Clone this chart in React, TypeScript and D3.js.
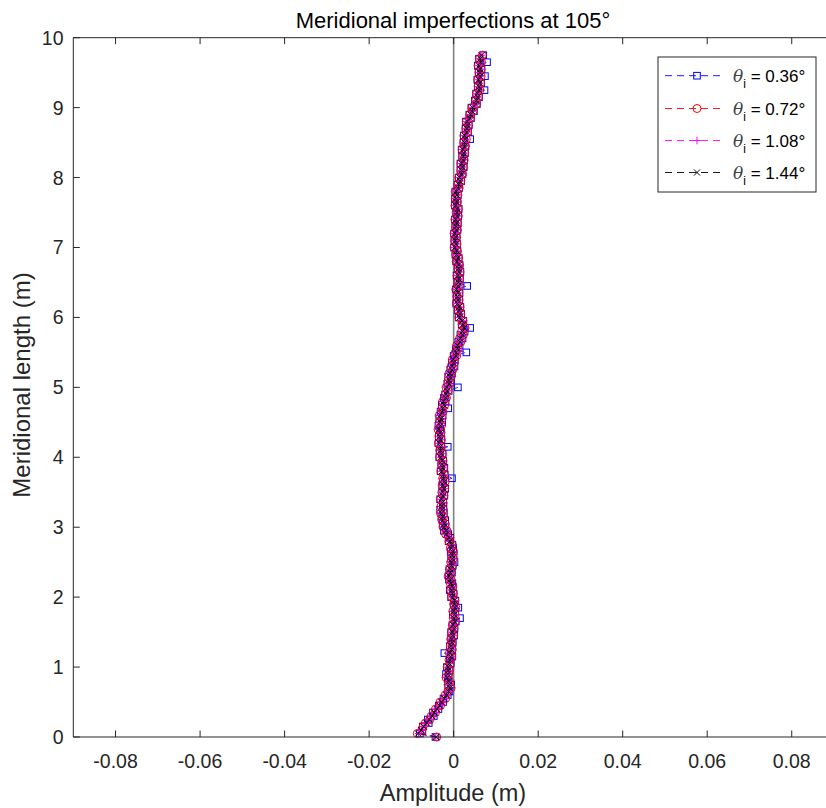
import React from 'react';
import * as d3 from 'd3';

// meridional stations (m)
const stations = [
  0.00, 0.05, 0.10, 0.15, 0.20, 0.25, 0.30, 0.35, 0.40, 0.45, 0.50, 0.55, 0.60, 0.65, 0.70, 0.75, 0.80, 0.85, 0.90, 0.95,
  1.00, 1.05, 1.10, 1.15, 1.20, 1.25, 1.30, 1.35, 1.40, 1.45, 1.50, 1.55, 1.60, 1.65, 1.70, 1.75, 1.80, 1.85, 1.90, 1.95,
  2.00, 2.05, 2.10, 2.15, 2.20, 2.25, 2.30, 2.35, 2.40, 2.45, 2.50, 2.55, 2.60, 2.65, 2.70, 2.75, 2.80, 2.85, 2.90, 2.95,
  3.00, 3.05, 3.10, 3.15, 3.20, 3.25, 3.30, 3.35, 3.40, 3.45, 3.50, 3.55, 3.60, 3.65, 3.70, 3.75, 3.80, 3.85, 3.90, 3.95,
  4.00, 4.05, 4.10, 4.15, 4.20, 4.25, 4.30, 4.35, 4.40, 4.45, 4.50, 4.55, 4.60, 4.65, 4.70, 4.75, 4.80, 4.85, 4.90, 4.95,
  5.00, 5.05, 5.10, 5.15, 5.20, 5.25, 5.30, 5.35, 5.40, 5.45, 5.50, 5.55, 5.60, 5.65, 5.70, 5.75, 5.80, 5.85, 5.90, 5.95,
  6.00, 6.05, 6.10, 6.15, 6.20, 6.25, 6.30, 6.35, 6.40, 6.45, 6.50, 6.55, 6.60, 6.65, 6.70, 6.75, 6.80, 6.85, 6.90, 6.95,
  7.00, 7.05, 7.10, 7.15, 7.20, 7.25, 7.30, 7.35, 7.40, 7.45, 7.50, 7.55, 7.60, 7.65, 7.70, 7.75, 7.80, 7.85, 7.90, 7.95,
  8.00, 8.05, 8.10, 8.15, 8.20, 8.25, 8.30, 8.35, 8.40, 8.45, 8.50, 8.55, 8.60, 8.65, 8.70, 8.75, 8.80, 8.85, 8.90, 8.95,
  9.00, 9.05, 9.10, 9.15, 9.20, 9.25, 9.30, 9.35, 9.40, 9.45, 9.50, 9.55, 9.60, 9.65, 9.70, 9.75,
];

// amplitudes in mm, one array per theta_i
const amp036 = [
  -4.3, -8.0, -7.4, -7.3, -5.9, -6.1, -4.7, -4.9, -3.6, -3.5, -2.5, -2.4, -1.4, -1.0, -1.3, -0.6, -1.4, -1.2, -1.8, -1.0,
  -1.6, -0.7, -0.9, -0.3, -2.2, -0.4, -0.9, -0.2, -0.6, 0.1, -0.6, 0.2, -0.3, 0.5, 1.5, -0.2, 0.4, 1.1, 0.0, 0.4,
  -0.6, 0.0, -0.9, -0.2, -0.3, -1.1, -1.2, -0.4, -1.0, -0.2, 0.2, -0.6, 0.0, -0.7, -0.1, -0.3, -1.2, -0.8, -1.3, -2.3,
  -1.9, -2.6, -2.0, -2.9, -2.3, -3.2, -2.4, -2.5, -3.2, -2.2, -2.7, -2.0, -2.7, -2.5, -0.4, -2.1, -3.1, -2.2, -2.9, -2.5,
  -3.4, -2.6, -3.3, -1.4, -3.6, -2.9, -3.5, -3.0, -3.2, -3.6, -2.7, -3.4, -2.6, -3.1, -1.3, -2.8, -1.9, -2.3, -2.0, -1.2,
  1.0, -1.5, -0.6, -1.3, -0.4, -0.8, 0.2, -0.4, 0.3, 0.0, 3.0, 0.5, 1.4, 1.1, 2.1, 1.6, 2.6, 3.9, 1.9, 2.3,
  1.2, 1.8, 1.0, 1.6, 0.6, 1.3, 0.7, 1.4, 0.5, 3.2, 0.9, 1.5, 0.7, 1.6, 1.0, 1.4, 0.6, 1.2, 0.4, 0.9,
  0.1, 0.8, 0.2, 0.7, 0.1, 0.9, 0.4, 1.0, 0.3, 1.1, 0.6, 1.2, 0.3, 0.9, 0.3, 1.0, 0.4, 1.3, 0.9, 1.8,
  1.2, 2.1, 1.6, 2.4, 1.6, 2.5, 2.0, 2.7, 1.9, 2.8, 2.3, 3.9, 2.4, 3.4, 2.8, 3.6, 2.9, 4.1, 3.7, 4.8,
  4.2, 5.5, 5.0, 6.0, 5.3, 7.3, 5.7, 6.5, 5.6, 7.4, 5.9, 6.6, 5.7, 7.9, 6.0, 7.0,
];
const amp072 = [
  -4.0, -8.6, -7.5, -7.2, -6.7, -5.6, -5.3, -4.3, -4.3, -3.1, -3.2, -1.9, -2.0, -1.4, -0.6, -1.3, -1.0, -1.8, -1.2, -1.0,
  -1.5, -0.8, -1.1, -0.5, -1.0, -0.3, -0.8, -0.4, -0.7, 0.0, -0.5, 0.1, -0.3, 0.4, -0.1, 0.3, -0.2, 0.5, 0.0, 0.3,
  -0.5, -0.1, -0.7, -0.2, -0.8, -0.6, -1.3, -0.6, -1.0, -0.3, -0.7, -0.1, -0.5, 0.0, -0.8, -0.3, -1.1, -0.9, -1.9, -1.6,
  -2.5, -2.0, -2.8, -2.4, -3.1, -2.5, -3.0, -2.5, -3.1, -2.3, -2.8, -2.1, -2.7, -2.0, -2.6, -2.2, -3.0, -2.4, -2.9, -2.5,
  -3.3, -2.7, -3.3, -2.9, -3.6, -2.9, -3.5, -3.0, -3.7, -2.9, -3.4, -2.8, -3.4, -2.5, -2.8, -2.1, -2.6, -1.7, -2.0, -1.3,
  -1.8, -0.9, -1.3, -0.6, -1.1, -0.2, -0.6, 0.2, -0.3, 0.7, 0.4, 1.1, 0.7, 1.7, 1.4, 2.3, 1.9, 2.7, 2.0, 2.2,
  1.2, 1.7, 1.1, 1.5, 0.7, 1.3, 0.7, 1.2, 0.5, 1.3, 0.9, 1.4, 0.8, 1.5, 1.0, 1.4, 0.6, 1.2, 0.5, 0.9,
  0.1, 0.8, 0.2, 0.7, 0.1, 0.9, 0.4, 0.9, 0.3, 1.1, 0.6, 1.1, 0.3, 0.9, 0.4, 1.0, 0.4, 1.3, 1.0, 1.7,
  1.2, 2.1, 1.7, 2.3, 1.7, 2.5, 2.1, 2.6, 2.0, 2.8, 2.4, 3.0, 2.4, 3.3, 2.9, 3.5, 3.0, 4.0, 3.8, 4.6,
  4.3, 5.4, 5.2, 5.9, 5.4, 6.2, 5.8, 6.4, 5.7, 6.5, 6.0, 6.5, 5.8, 6.6, 6.1, 6.8,
];
const amp108 = [
  -4.2, -8.3, -7.6, -7.0, -6.5, -5.7, -5.2, -4.5, -4.1, -3.2, -3.0, -2.1, -1.8, -1.1, -0.8, -1.1, -1.1, -1.7, -1.3, -1.1,
  -1.4, -0.9, -1.0, -0.6, -1.0, -0.4, -0.7, -0.3, -0.6, -0.1, -0.4, 0.2, -0.2, 0.4, 0.0, 0.3, -0.1, 0.4, 0.1, 0.3,
  -0.4, -0.2, -0.6, -0.3, -0.7, -0.7, -1.2, -0.7, -0.9, -0.4, -0.6, -0.2, -0.4, -0.1, -0.7, -0.4, -1.0, -1.0, -1.8, -1.7,
  -2.4, -2.1, -2.7, -2.5, -3.0, -2.6, -2.9, -2.6, -3.0, -2.4, -2.7, -2.2, -2.6, -2.1, -2.5, -2.3, -2.9, -2.5, -2.8, -2.6,
  -3.2, -2.8, -3.2, -3.0, -3.5, -3.0, -3.4, -3.1, -3.6, -3.0, -3.3, -2.9, -3.3, -2.6, -2.7, -2.2, -2.5, -1.8, -1.9, -1.4,
  -1.7, -1.0, -1.2, -0.7, -1.0, -0.3, -0.5, 0.1, -0.2, 0.6, 0.5, 1.0, 0.8, 1.6, 1.5, 2.2, 2.0, 2.6, 2.1, 2.1,
  1.3, 1.6, 1.2, 1.4, 0.8, 1.2, 0.8, 1.1, 0.6, 1.2, 1.0, 1.3, 0.9, 1.4, 1.1, 1.3, 0.7, 1.1, 0.6, 0.8,
  0.2, 0.7, 0.3, 0.6, 0.2, 0.8, 0.5, 0.8, 0.4, 1.0, 0.7, 1.0, 0.4, 0.8, 0.5, 0.9, 0.5, 1.2, 1.1, 1.6,
  1.3, 2.0, 1.8, 2.2, 1.8, 2.4, 2.2, 2.5, 2.1, 2.7, 2.5, 2.9, 2.5, 3.2, 3.0, 3.4, 3.1, 3.9, 3.9, 4.5,
  4.4, 5.3, 5.3, 5.8, 5.5, 6.1, 5.9, 6.3, 5.8, 6.4, 6.1, 6.4, 5.9, 6.5, 6.2, 6.7,
];
const amp144 = [
  -4.1, -8.4, -7.7, -7.1, -6.4, -5.8, -5.1, -4.6, -4.0, -3.3, -2.9, -2.2, -1.7, -1.2, -0.9, -1.0, -1.2, -1.5, -1.4, -1.3,
  -1.3, -1.0, -0.9, -0.7, -0.9, -0.5, -0.6, -0.4, -0.5, -0.2, -0.3, 0.1, -0.1, 0.3, 0.1, 0.2, 0.0, 0.3, 0.2, 0.2,
  -0.3, -0.3, -0.5, -0.4, -0.6, -0.8, -1.1, -0.8, -0.8, -0.5, -0.5, -0.3, -0.3, -0.2, -0.6, -0.5, -0.9, -1.1, -1.7, -1.8,
  -2.3, -2.2, -2.6, -2.6, -2.9, -2.7, -2.8, -2.7, -2.9, -2.5, -2.6, -2.3, -2.5, -2.2, -2.4, -2.4, -2.8, -2.6, -2.7, -2.7,
  -3.1, -2.9, -3.1, -3.1, -3.4, -3.1, -3.3, -3.2, -3.5, -3.1, -3.2, -3.0, -3.2, -2.7, -2.6, -2.3, -2.4, -1.9, -1.8, -1.5,
  -1.6, -1.1, -1.1, -0.8, -0.9, -0.4, -0.4, 0.0, -0.1, 0.5, 0.6, 0.9, 0.9, 1.5, 1.6, 2.1, 2.1, 2.5, 2.2, 2.0,
  1.4, 1.5, 1.3, 1.3, 0.9, 1.1, 0.9, 1.0, 0.7, 1.1, 1.1, 1.2, 1.0, 1.3, 1.2, 1.2, 0.8, 1.0, 0.7, 0.7,
  0.3, 0.6, 0.4, 0.5, 0.3, 0.7, 0.6, 0.7, 0.5, 0.9, 0.8, 0.9, 0.5, 0.7, 0.6, 0.8, 0.6, 1.1, 1.2, 1.5,
  1.4, 1.9, 1.9, 2.1, 1.9, 2.3, 2.3, 2.4, 2.2, 2.6, 2.6, 2.8, 2.6, 3.1, 3.1, 3.3, 3.2, 3.8, 4.0, 4.4,
  4.5, 5.2, 5.4, 5.7, 5.6, 6.0, 6.0, 6.2, 5.9, 6.3, 6.2, 6.3, 6.0, 6.4, 6.3, 6.6,
];

const thetaLabels = ['0.36', '0.72', '1.08', '1.44'];
const xTicks = [-0.08, -0.06, -0.04, -0.02, 0, 0.02, 0.04, 0.06, 0.08];
const yTicks = [0, 1, 2, 3, 4, 5, 6, 7, 8, 9, 10];

const series = [
  { label: thetaLabels[0], values: amp036, color: '#0000ff', marker: 'square' },
  { label: thetaLabels[1], values: amp072, color: '#ff0000', marker: 'circle' },
  { label: thetaLabels[2], values: amp108, color: '#ff00ff', marker: 'plus' },
  { label: thetaLabels[3], values: amp144, color: '#000000', marker: 'cross' },
];

const W = 826;
const H = 808;
const left = 73.3, right = 834, top = 37.7, bottom = 737;
const axisColor = '#262626';
const font = '"Liberation Sans", Arial, Helvetica, sans-serif';

function Marker({ type, cx, cy, color }: { type: string; cx: number; cy: number; color: string }) {
  const sw = 1;
  if (type === 'square') {
    return <rect x={cx - 3.3} y={cy - 3.3} width={6.6} height={6.6} fill="none" stroke={color} strokeWidth={sw} />;
  }
  if (type === 'circle') {
    return <circle cx={cx} cy={cy} r={4} fill="none" stroke={color} strokeWidth={sw} />;
  }
  if (type === 'plus') {
    return <path d={`M${cx - 3.8},${cy}H${cx + 3.8}M${cx},${cy - 3.8}V${cy + 3.8}`} stroke={color} strokeWidth={sw} />;
  }
  return <path d={`M${cx - 3},${cy - 3}L${cx + 3},${cy + 3}M${cx - 3},${cy + 3}L${cx + 3},${cy - 3}`} stroke={color} strokeWidth={sw} />;
}

export default function App() {
  const x = d3.scaleLinear().domain([-0.09, 0.09]).range([left, right]);
  const y = d3.scaleLinear().domain([0, 10]).range([bottom, top]);
  const line = d3.line<[number, number]>().x(d => x(d[0])).y(d => y(d[1]));

  const legendX = 658, legendY = 57, legendW = 158, legendH = 135;
  const rowY = [75.7, 108.5, 140.5, 172.5];

  return (
    <svg width={W} height={H} style={{ position: 'absolute', left: 0, top: 0, background: '#fff' }} fontFamily={font}>
      <rect width={W} height={H} fill="#fff" />
      {/* zero line */}
      <line x1={x(0)} x2={x(0)} y1={top} y2={bottom} stroke="#808080" strokeWidth={1.6} />

      {series.map(s => {
        const pts: [number, number][] = s.values.map((v, i) => [v / 1000, stations[i]]);
        return (
          <g key={s.label}>
            <path d={line(pts) || ''} fill="none" stroke={s.color} strokeWidth={0.8} strokeDasharray="6,4" />
            {pts.map((p, i) => (
              <Marker key={i} type={s.marker} cx={x(p[0])} cy={y(p[1])} color={s.color} />
            ))}
          </g>
        );
      })}

      {/* axes box */}
      <line x1={left} x2={right} y1={bottom} y2={bottom} stroke={axisColor} strokeWidth={1} />
      <line x1={left} x2={right} y1={top} y2={top} stroke={axisColor} strokeWidth={1} />
      <line x1={left} x2={left} y1={top} y2={bottom} stroke={axisColor} strokeWidth={1} />
      {xTicks.map(t => (
        <g key={t}>
          <line x1={x(t)} x2={x(t)} y1={bottom} y2={bottom - 6.5} stroke={axisColor} />
          <line x1={x(t)} x2={x(t)} y1={top} y2={top + 6.5} stroke={axisColor} />
          <text x={x(t)} y={768} textAnchor="middle" fontSize={19.5} fill={axisColor}>{t === 0 ? '0' : d3.format('.2f')(t).replace('−', '-')}</text>
        </g>
      ))}
      {yTicks.map(t => (
        <g key={t}>
          <line x1={left} x2={left + 6.5} y1={y(t)} y2={y(t)} stroke={axisColor} />
          <text x={63.5} y={y(t) + 7} textAnchor="end" fontSize={19.5} fill={axisColor}>{t}</text>
        </g>
      ))}

      <text x={453} y={28.3} textAnchor="middle" fontSize={22} fill="#000">Meridional imperfections at 105°</text>
      <text x={453} y={801} textAnchor="middle" fontSize={23.5} fill={axisColor}>Amplitude (m)</text>
      <text transform={`translate(30,385) rotate(-90)`} textAnchor="middle" fontSize={24} fill={axisColor}>Meridional length (m)</text>

      {/* legend */}
      <rect x={legendX} y={legendY} width={legendW} height={legendH} fill="#fff" stroke={axisColor} strokeWidth={1} />
      {series.map((s, i) => (
        <g key={s.label}>
          <line x1={665} x2={723} y1={rowY[i]} y2={rowY[i]} stroke={s.color} strokeWidth={0.9} strokeDasharray="7,5" />
          <Marker type={s.marker} cx={697} cy={rowY[i]} color={s.color} />
          <text x={733} y={rowY[i] + 6} fontSize={17} fill="#000">
            <tspan fontStyle="italic" fontFamily='"DejaVu Serif", "Liberation Serif", serif' fill="#444">θ</tspan>
            <tspan dy={6} fontSize={12}>i</tspan>
            <tspan dy={-6}>{` = ${s.label}°`}</tspan>
          </text>
        </g>
      ))}
    </svg>
  );
}
